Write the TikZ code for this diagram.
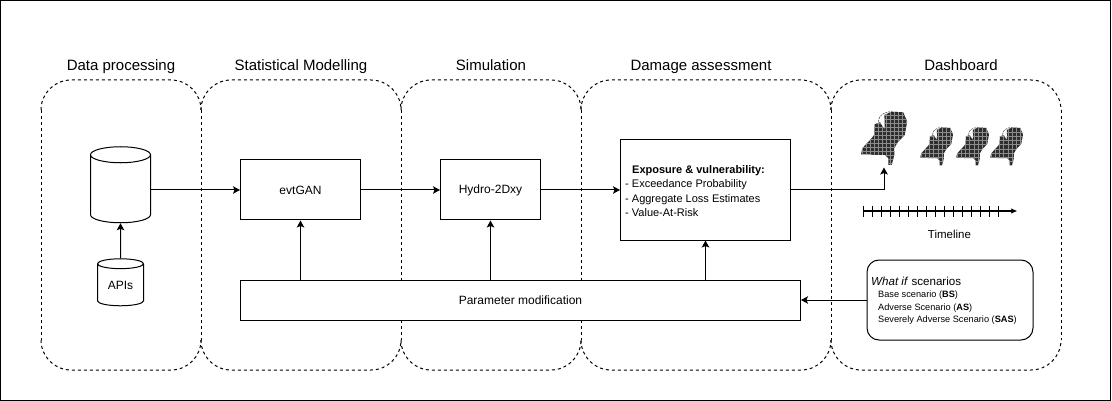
\documentclass[tikz,border=0pt]{standalone}
\usepackage{fontspec}
\setmainfont{Liberation Sans}
\usetikzlibrary{arrows.meta,shapes.geometric}

\newcommand{\nlpath}{(30,53.3) -- (26.6,53.3) -- (26.6,46.6) -- (23.3,43.3) -- (13.3,43.3) -- (6.6,42.6) -- (-0.7,42.6) -- (0.6,36.6) -- (8.3,28.3) -- (12.5,23.3) -- (13,12.6) -- (18.3,10.5) -- (21,15) -- (22.8,17.3) -- (23,10) -- (22.6,3.3) -- (30,0) -- (41.6,0.6) -- (45.5,10) -- (43,23.3) -- (36,30.6) -- (32.5,36.6) -- (32.6,43.3) -- cycle}
\newcommand{\scenline}[1]{{\fontsize{9.2}{12.5}\selectfont\hspace*{7pt}#1}}

\tikzset{
  panel/.style={dash pattern=on 3pt off 3pt,line width=1pt,rounded corners=30pt},
  title/.style={anchor=base,font=\fontsize{15}{17}\selectfont},
  block/.style={draw,fill=white,line width=1pt,inner sep=0pt,font=\fontsize{12}{14}\selectfont},
  store/.style={draw,fill=white,line width=1pt,cylinder,shape border rotate=90,inner sep=0pt,font=\fontsize{12}{14}\selectfont},
  link/.style={line width=1pt,-{Stealth[length=7pt,width=7.5pt,inset=1.5pt]}},
  pics/nlmap/.style={code={
    \fill[black!82] \nlpath;
    \draw[black!80,line width=0.5pt,dash pattern=on 2pt off 1pt] (16.7,10) .. controls (16.7,4) and (22,0) .. (30,0);
    \begin{scope}
      \clip \nlpath;
      \foreach \k in {0,#1,...,56} {
        \draw[black!45,line width=0.4pt] (\k,0) -- (\k,56);
        \draw[black!45,line width=0.4pt] (0,\k) -- (48,\k);
      }
    \end{scope}
  }}
}

\begin{document}
\begin{tikzpicture}[x=1pt,y=-1pt]
\useasboundingbox (0,0) rectangle (1112,401);
\draw[line width=1pt] (0.5,0.5) rectangle (1110.5,400.5);

% five stages, shared sides drawn once
\foreach \a/\b in {41/201,201/401,401/581,581/831,831/1061} {
  \draw[panel] (\a,110) -- (\a,80) -- (\b,80) -- (\b,110);
  \draw[panel] (\a,340) -- (\a,370) -- (\b,370) -- (\b,340);
}
\foreach \a in {41,201,401,581,831,1061} \draw[panel] (\a,110) -- (\a,340);

\path (121,71) node[title](tData){Data processing} (301,71) node[title](tStat){Statistical Modelling} (491,71) node[title](tSim){Simulation} (701,71) node[title](tDamage){Damage assessment} (961,71) node[title](tDash){Dashboard};

\path (120.5,189) node[store,minimum width=60pt,minimum height=76pt,shape aspect=2](Store){\phantom{A}} (120.5,285) node[store,minimum width=46pt,minimum height=47pt,shape aspect=0.39](APIs){APIs};

\path (300.5,190) node[block,minimum width=120pt,minimum height=60pt](evtGAN){evtGAN} (490.5,190) node[block,minimum width=100pt,minimum height=60pt](Hydro){Hydro-2Dxy} (705.5,190) node[block,minimum width=170pt,minimum height=100pt](Exposure){} (520.5,300) node[block,minimum width=560pt,minimum height=40pt](Param){Parameter modification} (950,300) node[block,minimum width=166pt,minimum height=80pt,rounded corners=12pt](Scenarios){};

\path (625,191) node[anchor=west,align=left,inner sep=0pt,font=\fontsize{11}{14.4}\selectfont](ExposureText){\hspace*{7pt}\textbf{Exposure \& vulnerability:}\\- Exceedance Probability\\- Aggregate Loss Estimates\\- Value-At-Risk};
\path (871,301) node[anchor=west,align=left,inner sep=0pt,font=\fontsize{11.6}{12.5}\selectfont](ScenarioText){\textit{What if} scenarios\\\scenline{Base scenario (\textbf{BS})}\\\scenline{Adverse Scenario (\textbf{AS})}\\\scenline{Severely Adverse Scenario (\textbf{SAS})}};

% maps
\path (861.7,111.7) pic{nlmap=4} (920.7,127.5) pic[scale=0.71]{nlmap=6} (956.7,127.5) pic[scale=0.71]{nlmap=6} (990.7,127.5) pic[scale=0.71]{nlmap=6};
\coordinate (mapTip) at (884,167.5);
\coordinate (mapCorner) at (884,190);

% timeline
\coordinate (timeStart) at (863,211);
\coordinate (timeEnd) at (1017,211);
\draw[line width=1.2pt,-{Stealth[length=6pt,width=5pt,inset=1pt]}] (timeStart) -- (timeEnd);
\foreach \k in {0,...,15} \draw[line width=0.7pt] (863.5+\k*9,206) -- (863.5+\k*9,217);
\path (949.5,234) node[font=\fontsize{11.5}{12}\selectfont](Timeline){Timeline};

\draw[link] (Store.east |- evtGAN.west) -- (evtGAN.west);
\draw[link] (APIs.north) -- (Store.south);
\draw[link] (evtGAN.east) -- (Hydro.west);
\draw[link] (Hydro.east) -- (Exposure.west);
\draw[link] (Exposure.east) -- (mapCorner) -- (mapTip);
\draw[link] (Param.north -| evtGAN.south) -- (evtGAN.south);
\draw[link] (Param.north -| Hydro.south) -- (Hydro.south);
\draw[link] (Param.north -| Exposure.south) -- (Exposure.south);
\draw[link] (Scenarios.west) -- (Param.east);
\end{tikzpicture}
\end{document}
